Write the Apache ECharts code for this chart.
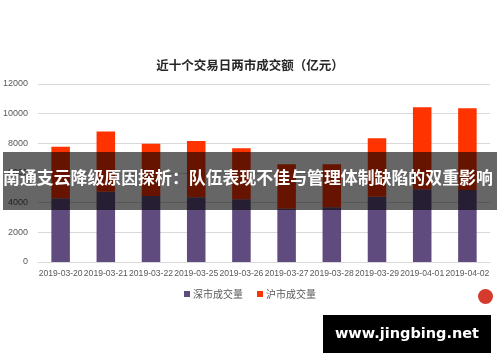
<!DOCTYPE html>
<html><head><meta charset="utf-8">
<script src="https://cdn.jsdelivr.net/npm/echarts@6/dist/echarts.min.js"></script>
<style>html,body{margin:0;padding:0;background:#fff}#c{width:500px;height:362px}</style>
</head><body><div id="c"></div>
<script>
const categories = ['2019-03-20','2019-03-21','2019-03-22','2019-03-25','2019-03-26','2019-03-27','2019-03-28','2019-03-29','2019-04-01','2019-04-02'];
const szVolume = [4300, 4740, 4450, 4360, 4230, 3600, 3690, 4400, 4900, 4850];
const shVolume = [3470, 4050, 3530, 3800, 3440, 2990, 2900, 3940, 5530, 5510];
const yTicks = [0, 2000, 4000, 6000, 8000, 10000, 12000];
const seriesNames = ['深市成交量', '沪市成交量'];
const titleText = '近十个交易日两市成交额（亿元）';
const bannerText = '南通支云降级原因探析：队伍表现不佳与管理体制缺陷的双重影响';
const siteText = 'www.jingbing.net';

const font = '"Noto Sans CJK SC", "Liberation Sans", sans-serif';
const chart = echarts.init(document.getElementById('c'), null, {renderer: 'canvas'});
chart.setOption({
  animation: false,
  backgroundColor: '#ffffff',
  title: {
    text: titleText, left: 'center', top: 54,
    textStyle: {fontSize: 12.5, fontWeight: 'bold', color: '#262626', fontFamily: font}
  },
  legend: {
    data: seriesNames, bottom: 58, left: 'center',
    itemWidth: 6, itemHeight: 6, itemGap: 14, icon: 'rect',
    textStyle: {fontSize: 10, color: '#595959', fontFamily: font, padding: [0,0,0,-2]}
  },
  grid: {left: 37, right: 10, top: 84, bottom: 100, containLabel: false},
  xAxis: {
    type: 'category', data: categories,
    axisLine: {lineStyle: {color: '#d9d9d9'}},
    axisTick: {show: false},
    axisLabel: {fontSize: 8.6, color: '#595959', interval: 0, margin: 7, fontFamily: '"Liberation Sans", sans-serif'}
  },
  yAxis: {
    type: 'value', min: yTicks[0], max: yTicks[yTicks.length-1], interval: 2000,
    axisLine: {show: false}, axisTick: {show: false},
    splitLine: {lineStyle: {color: '#d9d9d9'}},
    axisLabel: {fontSize: 9, color: '#595959', margin: 10, fontFamily: '"Liberation Sans", sans-serif',
      formatter: function (v) { return String(v); }}
  },
  series: [
    {name: seriesNames[0], type: 'bar', stack: 'total', data: szVolume, barWidth: '41%', itemStyle: {color: '#5f4b7e'}},
    {name: seriesNames[1], type: 'bar', stack: 'total', data: shVolume, barWidth: '41%', itemStyle: {color: '#ff3300'}}
  ],
  graphic: [
    {type: 'rect', left: 3, top: 152, shape: {width: 494, height: 58}, style: {fill: 'rgba(0,0,0,0.6)'}, z: 100},
    {type: 'text', left: 3, top: 169, style: {text: bannerText, fill: '#ffffff', font: 'bold 16.9px ' + font}, z: 101},
    {type: 'circle', left: 478, top: 289, shape: {r: 7.5}, style: {fill: '#d63a2c'}, z: 100},
    {type: 'rect', left: 323, top: 315, shape: {width: 168, height: 38}, style: {fill: '#000000'}, z: 100},
    {type: 'text', x: 407, y: 334, style: {text: siteText, fill: '#ffffff', font: 'bold 14.5px "DejaVu Sans", sans-serif', align: 'center', verticalAlign: 'middle'}, z: 101}
  ]
});
</script></body></html>
